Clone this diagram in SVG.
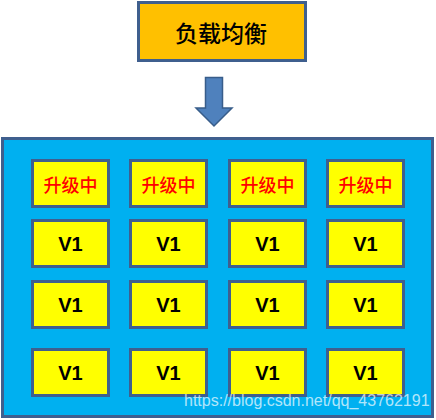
<svg xmlns="http://www.w3.org/2000/svg" width="436" height="420" viewBox="0 0 436 420">
<style>
.box{fill:#FFFF00;stroke:#3F5F8E;stroke-width:3}
.up{font-family:"Noto Sans CJK SC",sans-serif;font-size:18px;font-weight:500;fill:#FF0000;text-anchor:middle;dominant-baseline:central}
.v{font-family:"Liberation Sans",Arial,sans-serif;font-size:20px;font-weight:bold;fill:#000;text-anchor:middle;dominant-baseline:central}
</style>
<rect x="0" y="0" width="436" height="420" fill="#FFFFFF"/>
<g id="lb">
<rect x="138.5" y="2.5" width="167" height="58" fill="#FFC000" stroke="#3F5F8E" stroke-width="3"/>
<text x="221" y="32" font-family="'Noto Sans CJK SC',sans-serif" font-size="23" font-weight="500" fill="#000" text-anchor="middle" dominant-baseline="central">负载均衡</text>
</g>
<g id="connectors">
<path d="M205.5 77.5 H222.5 V108 H232 L214 126 L196 108 H205.5 Z" fill="#4F81BD" stroke="#385D8A" stroke-width="1.5"/>
</g>
<g id="cluster">
<rect x="2.5" y="138.5" width="430" height="278" fill="#00B0F0" stroke="#3F5F8E" stroke-width="3"/>
</g>
<g id="n11"><rect class="box" x="32.5" y="160.5" width="76" height="46"/><text class="up" x="70.5" y="183.5">升级中</text></g>
<g id="n12"><rect class="box" x="130.5" y="160.5" width="76" height="46"/><text class="up" x="168.5" y="183.5">升级中</text></g>
<g id="n13"><rect class="box" x="229.5" y="160.5" width="76" height="46"/><text class="up" x="267.5" y="183.5">升级中</text></g>
<g id="n14"><rect class="box" x="327.5" y="160.5" width="76" height="46"/><text class="up" x="365.5" y="183.5">升级中</text></g>
<g id="n21"><rect class="box" x="32.5" y="220.5" width="76" height="46"/><text class="v" x="70.5" y="244">V1</text></g>
<g id="n22"><rect class="box" x="130.5" y="220.5" width="76" height="46"/><text class="v" x="168.5" y="244">V1</text></g>
<g id="n23"><rect class="box" x="229.5" y="220.5" width="76" height="46"/><text class="v" x="267.5" y="244">V1</text></g>
<g id="n24"><rect class="box" x="327.5" y="220.5" width="76" height="46"/><text class="v" x="365.5" y="244">V1</text></g>
<g id="n31"><rect class="box" x="32.5" y="281.5" width="76" height="46"/><text class="v" x="70.5" y="305">V1</text></g>
<g id="n32"><rect class="box" x="130.5" y="281.5" width="76" height="46"/><text class="v" x="168.5" y="305">V1</text></g>
<g id="n33"><rect class="box" x="229.5" y="281.5" width="76" height="46"/><text class="v" x="267.5" y="305">V1</text></g>
<g id="n34"><rect class="box" x="327.5" y="281.5" width="76" height="46"/><text class="v" x="365.5" y="305">V1</text></g>
<g id="n41"><rect class="box" x="32.5" y="349.5" width="76" height="46"/><text class="v" x="70.5" y="373">V1</text></g>
<g id="n42"><rect class="box" x="130.5" y="349.5" width="76" height="46"/><text class="v" x="168.5" y="373">V1</text></g>
<g id="n43"><rect class="box" x="229.5" y="349.5" width="76" height="46"/><text class="v" x="267.5" y="373">V1</text></g>
<g id="n44"><rect class="box" x="327.5" y="349.5" width="76" height="46"/><text class="v" x="365.5" y="373">V1</text></g>
<text x="184" y="406" font-family="'Liberation Sans',Arial,sans-serif" font-size="16" fill="#FFFFFF" fill-opacity="0.7">https://blog.csdn.net/qq_43762191</text>
</svg>
